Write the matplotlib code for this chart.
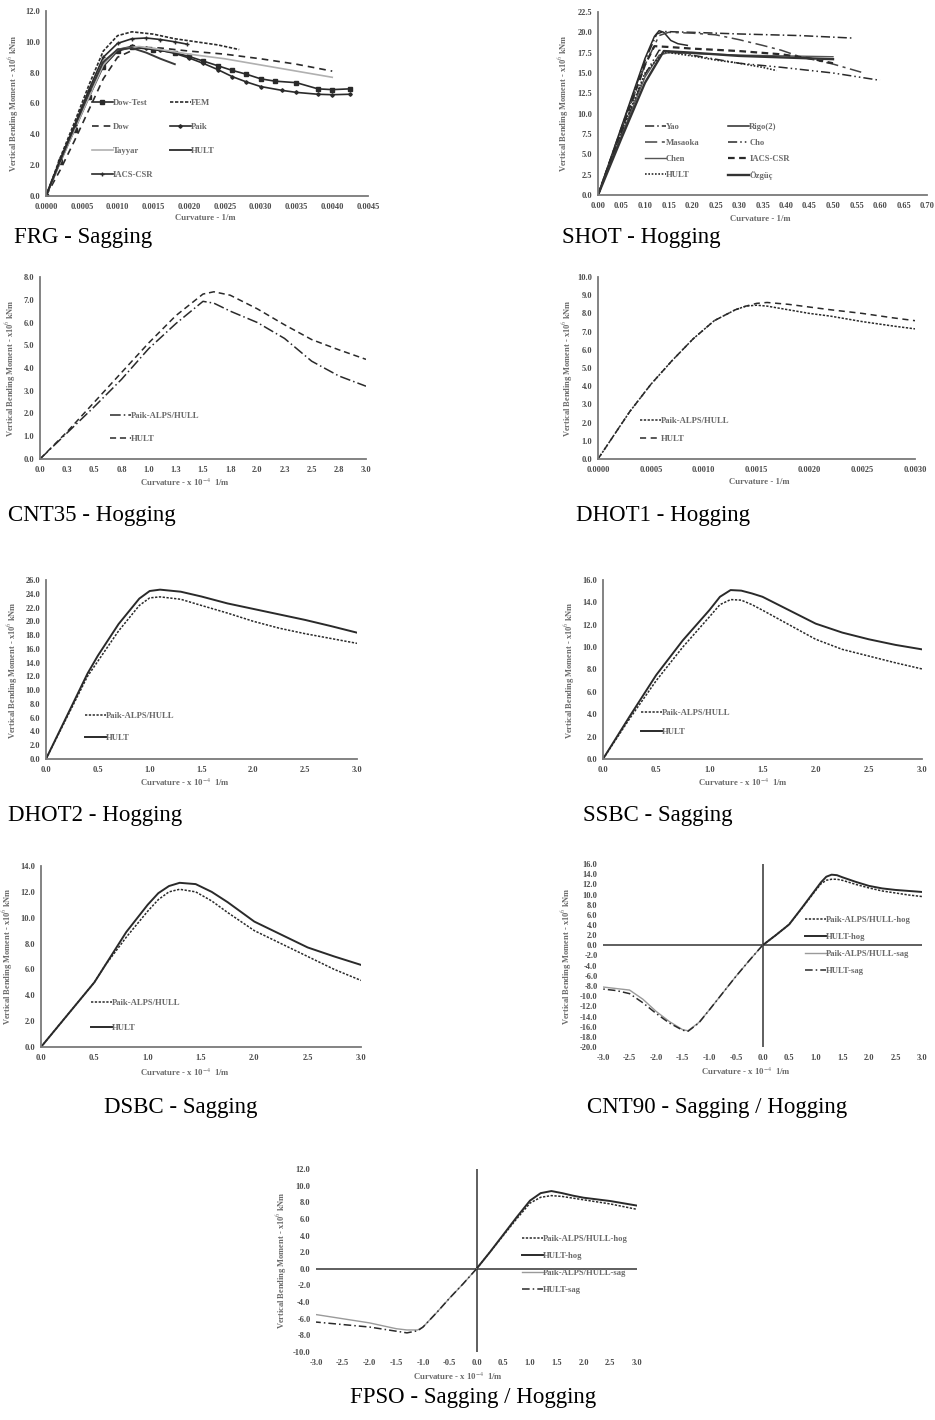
import matplotlib
matplotlib.use('Agg')
import matplotlib.pyplot as plt

plt.rcParams['font.family'] = ['Liberation Serif', 'DejaVu Serif']
plt.rcParams['mathtext.fontset'] = 'stix'

# ---------------- DATA ----------------
# FRG - Sagging (curvature 1/m, moment x10^6 kNm)
frg_dowtest_x = [0, 0.0002, 0.0004, 0.0006, 0.0008, 0.0010, 0.0012, 0.0015, 0.0018, 0.0020, 0.0022, 0.0024, 0.0026, 0.0028, 0.0030, 0.0032, 0.0035, 0.0038, 0.0040, 0.00425]
frg_dowtest_y = [0, 2.2, 4.3, 6.4, 8.4, 9.4, 9.65, 9.5, 9.3, 9.05, 8.75, 8.45, 8.15, 7.9, 7.6, 7.45, 7.35, 6.95, 6.9, 6.95]
frg_fem_x = [0, 0.0002, 0.0004, 0.0006, 0.0008, 0.0010, 0.0012, 0.0015, 0.0018, 0.0021, 0.0024, 0.0027]
frg_fem_y = [0, 2.5, 4.8, 7.2, 9.4, 10.4, 10.65, 10.5, 10.2, 10.0, 9.8, 9.5]
frg_dow_x = [0, 0.0002, 0.0004, 0.0006, 0.0008, 0.0010, 0.0013, 0.0016, 0.0020, 0.0025, 0.0030, 0.0035, 0.0040]
frg_dow_y = [0, 1.7, 3.6, 5.6, 7.6, 9.0, 9.65, 9.6, 9.4, 9.2, 8.9, 8.55, 8.1]
frg_paik_x = [0, 0.0002, 0.0004, 0.0006, 0.0008, 0.0010, 0.0012, 0.0014, 0.0016, 0.0018, 0.0020, 0.0022, 0.0024, 0.0026, 0.0028, 0.0030, 0.0033, 0.0035, 0.0038, 0.0040, 0.00425]
frg_paik_y = [0, 2.3, 4.4, 6.5, 8.6, 9.5, 9.7, 9.6, 9.45, 9.25, 8.95, 8.6, 8.2, 7.75, 7.4, 7.1, 6.85, 6.72, 6.6, 6.57, 6.6]
frg_tayyar_x = [0, 0.0002, 0.0004, 0.0006, 0.0008, 0.0010, 0.0013, 0.0016, 0.0020, 0.0025, 0.0030, 0.0035, 0.0040]
frg_tayyar_y = [0, 2.2, 4.3, 6.4, 8.5, 9.5, 9.7, 9.5, 9.2, 8.9, 8.5, 8.1, 7.7]
frg_hult_x = [0, 0.0002, 0.0004, 0.0006, 0.0008, 0.0010, 0.0012, 0.0014, 0.0016, 0.0018]
frg_hult_y = [0, 2.3, 4.5, 6.7, 8.7, 9.5, 9.6, 9.3, 8.9, 8.55]
frg_iacs_x = [0, 0.0002, 0.0004, 0.0006, 0.0008, 0.0010, 0.0012, 0.0014, 0.0016, 0.0018, 0.00197]
frg_iacs_y = [0, 2.4, 4.6, 6.9, 9.0, 9.9, 10.2, 10.25, 10.15, 10.0, 9.85]

# SHOT - Hogging
shot_yao_x = [0, 0.05, 0.10, 0.125, 0.14, 0.2, 0.25, 0.3, 0.43, 0.54]
shot_yao_y = [0, 8.3, 16.5, 19.8, 20.1, 20.0, 19.9, 19.8, 19.6, 19.3]
shot_rigo_x = [0, 0.05, 0.10, 0.12, 0.13, 0.14, 0.155, 0.17, 0.19]
shot_rigo_y = [0, 8.4, 16.8, 19.5, 20.2, 20.0, 19.0, 18.6, 18.4]
shot_masaoka_x = [0, 0.05, 0.10, 0.13, 0.15, 0.2, 0.25, 0.3, 0.35, 0.39, 0.43, 0.5, 0.56]
shot_masaoka_y = [0, 8.0, 16.0, 19.6, 20.0, 19.9, 19.7, 19.1, 18.4, 17.8, 17.0, 16.1, 15.1]
shot_cho_x = [0, 0.05, 0.10, 0.13, 0.16, 0.2, 0.25, 0.3, 0.39, 0.5, 0.6]
shot_cho_y = [0, 7.6, 14.8, 17.8, 17.6, 17.2, 16.7, 16.2, 15.7, 15.0, 14.1]
shot_chen_x = [0, 0.05, 0.10, 0.13, 0.15, 0.2, 0.3, 0.4, 0.5]
shot_chen_y = [0, 7.3, 14.5, 17.2, 17.5, 17.4, 17.2, 17.1, 17.0]
shot_iacs_x = [0, 0.05, 0.10, 0.12, 0.15, 0.2, 0.3, 0.39, 0.45, 0.5]
shot_iacs_y = [0, 8.0, 16.0, 18.3, 18.2, 18.0, 17.7, 17.3, 16.8, 16.2]
shot_hult_x = [0, 0.05, 0.10, 0.14, 0.2, 0.25, 0.3, 0.35, 0.38]
shot_hult_y = [0, 7.8, 15.0, 17.6, 17.1, 16.6, 16.2, 15.7, 15.3]
shot_ozguc_x = [0, 0.05, 0.10, 0.14, 0.2, 0.25, 0.3, 0.4, 0.5]
shot_ozguc_y = [0, 7.0, 13.8, 17.7, 17.5, 17.3, 17.1, 16.9, 16.7]

# CNT35 - Hogging (curvature x10^-4 1/m)
cnt35_x = [0, 0.25, 0.5, 0.75, 1.0, 1.25, 1.5, 1.6, 1.75, 2.0, 2.25, 2.5, 2.75, 3.0]
cnt35_paik = [0, 1.15, 2.3, 3.5, 4.85, 5.95, 6.93, 6.85, 6.5, 6.0, 5.3, 4.3, 3.65, 3.2]
cnt35_hult = [0, 1.2, 2.5, 3.8, 5.1, 6.3, 7.25, 7.35, 7.2, 6.6, 5.9, 5.25, 4.8, 4.38]

# DHOT1 - Hogging (curvature 1/m)
dhot1_x = [0, 0.0003, 0.0005, 0.0007, 0.0009, 0.0011, 0.0013, 0.0014, 0.0015, 0.0016, 0.0018, 0.0020, 0.0022, 0.0025, 0.0028, 0.0030]
dhot1_paik = [0, 2.6, 4.1, 5.4, 6.6, 7.6, 8.2, 8.4, 8.45, 8.4, 8.2, 8.0, 7.85, 7.55, 7.3, 7.15]
dhot1_hult = [0, 2.6, 4.1, 5.4, 6.6, 7.6, 8.2, 8.4, 8.55, 8.6, 8.5, 8.35, 8.2, 8.0, 7.75, 7.6]

# DHOT2 - Hogging
dhot2_x = [0, 0.2, 0.4, 0.5, 0.7, 0.9, 1.0, 1.1, 1.3, 1.5, 1.75, 2.0, 2.25, 2.5, 2.75, 3.0]
dhot2_paik = [0, 6.0, 12.0, 14.2, 18.6, 22.3, 23.4, 23.55, 23.2, 22.3, 21.2, 20.0, 19.0, 18.2, 17.5, 16.8]
dhot2_hult = [0, 6.2, 12.4, 15.0, 19.6, 23.3, 24.4, 24.6, 24.3, 23.6, 22.6, 21.8, 21.0, 20.2, 19.3, 18.35]

# SSBC - Sagging
ssbc_x = [0, 0.25, 0.5, 0.75, 1.0, 1.1, 1.2, 1.3, 1.4, 1.5, 1.75, 2.0, 2.25, 2.5, 2.75, 3.0]
ssbc_paik = [0, 3.6, 7.0, 10.0, 12.7, 13.8, 14.25, 14.2, 13.8, 13.3, 12.0, 10.7, 9.8, 9.2, 8.6, 8.05]
ssbc_hult = [0, 3.8, 7.5, 10.6, 13.3, 14.5, 15.1, 15.05, 14.8, 14.5, 13.3, 12.1, 11.3, 10.7, 10.2, 9.8]

# DSBC - Sagging
dsbc_x = [0, 0.2, 0.4, 0.5, 0.6, 0.8, 1.0, 1.1, 1.2, 1.3, 1.45, 1.6, 1.75, 2.0, 2.25, 2.5, 2.75, 3.0]
dsbc_paik = [0, 2.0, 4.0, 5.0, 6.3, 8.5, 10.5, 11.4, 12.0, 12.2, 12.0, 11.3, 10.4, 9.0, 8.0, 7.0, 6.0, 5.15]
dsbc_hult = [0, 2.0, 4.0, 5.0, 6.3, 8.9, 11.0, 11.9, 12.45, 12.7, 12.6, 12.0, 11.2, 9.7, 8.7, 7.7, 7.0, 6.35]

# CNT90 - Sagging / Hogging
cnt90_hog_x = [0, 0.25, 0.5, 0.75, 1.0, 1.1, 1.2, 1.3, 1.4, 1.5, 1.75, 2.0, 2.25, 2.5, 2.75, 3.0]
cnt90_paik_hog = [0, 2.0, 4.1, 7.4, 10.8, 12.1, 12.8, 13.0, 13.0, 12.8, 12.0, 11.3, 10.7, 10.3, 9.9, 9.6]
cnt90_hult_hog = [0, 2.0, 4.1, 7.5, 11.0, 12.4, 13.5, 13.9, 13.8, 13.4, 12.5, 11.7, 11.2, 10.9, 10.7, 10.5]
cnt90_sag_x = [0, -0.25, -0.5, -0.75, -1.0, -1.2, -1.4, -1.5, -1.75, -2.0, -2.25, -2.5, -2.75, -3.0]
cnt90_paik_sag = [0, -3.0, -6.1, -9.4, -12.7, -15.2, -16.8, -16.6, -15.0, -13.0, -10.6, -8.8, -8.5, -8.2]
cnt90_hult_sag = [0, -3.0, -6.1, -9.4, -12.7, -15.3, -16.9, -16.7, -15.3, -13.4, -11.3, -9.5, -8.9, -8.6]

# FPSO - Sagging / Hogging
fpso_hog_x = [0, 0.25, 0.5, 0.75, 1.0, 1.2, 1.4, 1.6, 1.8, 2.0, 2.5, 3.0]
fpso_paik_hog = [0, 2.0, 4.0, 6.0, 7.9, 8.6, 8.8, 8.7, 8.5, 8.3, 7.8, 7.15]
fpso_hult_hog = [0, 2.0, 4.1, 6.2, 8.2, 9.1, 9.35, 9.1, 8.8, 8.55, 8.15, 7.6]
fpso_sag_x = [0, -0.25, -0.5, -0.75, -1.0, -1.1, -1.3, -1.5, -2.0, -2.5, -3.0]
fpso_paik_sag = [0, -1.8, -3.5, -5.3, -7.0, -7.35, -7.35, -7.2, -6.5, -6.0, -5.5]
fpso_hult_sag = [0, -1.8, -3.5, -5.3, -7.0, -7.45, -7.7, -7.5, -7.0, -6.7, -6.4]

# tick labels
frg_xticks = [0, 0.0005, 0.0010, 0.0015, 0.0020, 0.0025, 0.0030, 0.0035, 0.0040, 0.0045]
shot_xticks = [0, 0.05, 0.10, 0.15, 0.20, 0.25, 0.30, 0.35, 0.40, 0.45, 0.50, 0.55, 0.60, 0.65, 0.70]
cnt35_xticks = [0, 0.25, 0.5, 0.75, 1.0, 1.25, 1.5, 1.75, 2.0, 2.25, 2.5, 2.75, 3.0]
cnt35_xlabels = ["0.0", "0.3", "0.5", "0.8", "1.0", "1.3", "1.5", "1.8", "2.0", "2.3", "2.5", "2.8", "3.0"]
dhot1_xticks = [0, 0.0005, 0.0010, 0.0015, 0.0020, 0.0025, 0.0030]
half_xticks = [0, 0.5, 1.0, 1.5, 2.0, 2.5, 3.0]
sym_xticks = [-3.0, -2.5, -2.0, -1.5, -1.0, -0.5, 0, 0.5, 1.0, 1.5, 2.0, 2.5, 3.0]

# ---------------- FIGURE ----------------
W, H = 935, 1420
fig = plt.figure(figsize=(W / 100, H / 100), dpi=100)

TICK_FS = 6.0
LEG_FS = 6.2
TICK_C = '#4a4a4a'
TXT = '#6a6a6a'
DARK = '#2a2a2a'
LEG_PX = LEG_FS * 100 / 72


def add_ax(l, t, r, b):
    return fig.add_axes([l / W, 1 - b / H, (r - l) / W, (b - t) / H])


def style(ax, xlim, ylim, xt, xl, yt, yl, cross=False):
    ax.set_xlim(*xlim)
    ax.set_ylim(*ylim)
    ax.set_xticks(xt)
    ax.set_xticklabels(xl)
    ax.set_yticks(yt)
    ax.set_yticklabels(yl)
    ax.tick_params(axis='x', length=0, labelsize=TICK_FS, labelcolor=TICK_C, pad=5)
    ax.tick_params(axis='y', length=0, labelsize=TICK_FS, labelcolor=TICK_C, pad=4)
    for lab in ax.get_xticklabels() + ax.get_yticklabels():
        lab.set_fontweight('bold')
    for s in ['top', 'right']:
        ax.spines[s].set_visible(False)
    if cross:
        ax.spines['left'].set_visible(False)
        ax.spines['bottom'].set_visible(False)
        ax.axhline(0, color='#333333', lw=1.1, zorder=1)
        ax.axvline(0, color='#333333', lw=1.1, zorder=1)
    else:
        for s in ['left', 'bottom']:
            ax.spines[s].set_color('#7a7a7a')
            ax.spines[s].set_linewidth(1.3)
    ax.patch.set_alpha(0)


def legend_h(ax, hs, x, y, step, ncol=1, colsep=1.0):
    ls = (step - LEG_PX * 1.15) / LEG_PX
    ax.legend(hs, [h.get_label() for h in hs], loc='upper left',
              bbox_to_anchor=(x / W, 1 - (y - LEG_PX * 0.62) / H),
              bbox_transform=fig.transFigure, frameon=False, ncol=ncol,
              prop={'size': LEG_FS, 'weight': 'bold', 'family': 'Liberation Serif'},
              labelcolor=TXT, handlelength=2.4, handletextpad=0.05, borderpad=0,
              borderaxespad=0, labelspacing=ls, columnspacing=colsep)


def ylabel(x, yc, s):
    fig.text(x / W, 1 - yc / H, s, rotation=90, ha='center', va='center',
             fontsize=TICK_FS, color=TXT, fontweight='bold')


def xlabel(xc, y, s):
    fig.text(xc / W, 1 - y / H, s, ha='center', va='center',
             fontsize=TICK_FS + 0.3, color=TXT, fontweight='bold')


def caption(x, y, s):
    fig.text(x / W, 1 - y / H, s, ha='left', va='center', fontsize=16.5,
             color='black', family='Liberation Serif')


def fmt(vals, f):
    return [f % v for v in vals]


YL = r'Vertical Bending Moment - x10$^{6}$ kNm'
XL_SI = 'Curvature - 1/m'
XL_E4 = r'Curvature - x 10$^{-4}$  1/m'

# ---- FRG ----
ax = add_ax(46, 11, 368, 196)
style(ax, (0, 0.0045), (0, 12), frg_xticks, fmt(frg_xticks, '%.4f'),
      [0, 2, 4, 6, 8, 10, 12], fmt([0, 2, 4, 6, 8, 10, 12], '%.1f'))
h_dt, = ax.plot(frg_dowtest_x, frg_dowtest_y, color=DARK, lw=1.2, marker='s', ms=2.6, label='Dow-Test')
h_fem, = ax.plot(frg_fem_x, frg_fem_y, color=DARK, lw=1.2, ls=(0, (2, 1)), label='FEM')
h_dow, = ax.plot(frg_dow_x, frg_dow_y, color=DARK, lw=1.2, ls=(0, (4, 3)), label='Dow')
h_pk, = ax.plot(frg_paik_x, frg_paik_y, color=DARK, lw=1.2, marker='D', ms=1.8, label='Paik')
h_ty, = ax.plot(frg_tayyar_x, frg_tayyar_y, color='#b0b0b0', lw=1.2, label='Tayyar')
h_hu, = ax.plot(frg_hult_x, frg_hult_y, color='#3a3a3a', lw=1.4, label='HULT')
h_ia, = ax.plot(frg_iacs_x, frg_iacs_y, color=DARK, lw=1.2, marker='+', ms=3, label='IACS-CSR')
legend_h(ax, [h_dt, h_dow, h_ty, h_ia, h_fem, h_pk, h_hu], 92, 104, 26, ncol=2, colsep=1.9)
ylabel(14, 103, YL)
xlabel(205, 218, XL_SI)
caption(14, 237, 'FRG - Sagging')

# ---- SHOT ----
ax = add_ax(598, 12, 927, 195)
style(ax, (0, 0.70), (0, 22.5), shot_xticks, fmt(shot_xticks, '%.2f'),
      [0, 2.5, 5, 7.5, 10, 12.5, 15, 17.5, 20, 22.5], fmt([0, 2.5, 5, 7.5, 10, 12.5, 15, 17.5, 20, 22.5], '%.1f'))
a1, = ax.plot(shot_yao_x, shot_yao_y, color=DARK, lw=1.1, ls=(0, (6, 2, 1, 2)), label='Yao')
a2, = ax.plot(shot_rigo_x, shot_rigo_y, color=DARK, lw=1.1, label='Rigo(2)')
a3, = ax.plot(shot_masaoka_x, shot_masaoka_y, color='#444444', lw=1.1, ls=(0, (8, 3, 2, 3)), label='Masaoka')
a4, = ax.plot(shot_cho_x, shot_cho_y, color=DARK, lw=1.1, ls=(0, (6, 2, 1, 2, 1, 2)), label='Cho')
a5, = ax.plot(shot_chen_x, shot_chen_y, color='#555555', lw=1.0, label='Chen')
a6, = ax.plot(shot_iacs_x, shot_iacs_y, color=DARK, lw=1.6, ls=(0, (3, 2)), label='IACS-CSR')
a7, = ax.plot(shot_hult_x, shot_hult_y, color=DARK, lw=1.2, ls=(0, (1, 1)), label='HULT')
a8, = ax.plot(shot_ozguc_x, shot_ozguc_y, color='#333333', lw=1.7, label='Özgüç')
legend_h(ax, [a1, a3, a5, a7, a2, a4, a6, a8], 645, 128, 18, ncol=2, colsep=3.3)
ylabel(564, 103, YL)
xlabel(760, 219, XL_SI)
caption(562, 237, 'SHOT - Hogging')

# ---- CNT35 ----
ax = add_ax(40, 277, 366, 459)
style(ax, (0, 3), (0, 8), cnt35_xticks, cnt35_xlabels, list(range(0, 9)), fmt(range(0, 9), '%.1f'))
b1, = ax.plot(cnt35_x, cnt35_paik, color=DARK, lw=1.1, ls=(0, (7, 2, 1, 2)), label='Paik-ALPS/HULL')
b2, = ax.plot(cnt35_x, cnt35_hult, color=DARK, lw=1.1, ls=(0, (4, 2.5)), label='HULT')
legend_h(ax, [b1, b2], 110, 417, 25)
ylabel(11, 368, YL)
xlabel(185, 482, XL_E4)
caption(8, 515, 'CNT35 - Hogging')

# ---- DHOT1 ----
ax = add_ax(598, 277, 915, 459)
style(ax, (0, 0.003), (0, 10), dhot1_xticks, fmt(dhot1_xticks, '%.4f'), list(range(0, 11)), fmt(range(0, 11), '%.1f'))
c1, = ax.plot(dhot1_x, dhot1_paik, color=DARK, lw=1.1, ls=(0, (1.5, 1)), label='Paik-ALPS/HULL')
c2, = ax.plot(dhot1_x, dhot1_hult, color=DARK, lw=1.1, ls=(0, (4, 3)), label='HULT')
legend_h(ax, [c1, c2], 640, 422, 20)
ylabel(568, 368, YL)
xlabel(759, 482, XL_SI)
caption(576, 515, 'DHOT1 - Hogging')

# ---- DHOT2 ----
ax = add_ax(46, 580, 357, 759)
style(ax, (0, 3), (0, 26), half_xticks, fmt(half_xticks, '%.1f'), list(range(0, 27, 2)), fmt(range(0, 27, 2), '%.1f'))
d1, = ax.plot(dhot2_x, dhot2_paik, color=DARK, lw=1.1, ls=(0, (1.5, 1)), label='Paik-ALPS/HULL')
d2, = ax.plot(dhot2_x, dhot2_hult, color=DARK, lw=1.4, label='HULT')
legend_h(ax, [d1, d2], 85, 717, 24)
ylabel(13, 670, YL)
xlabel(185, 782, XL_E4)
caption(8, 815, 'DHOT2 - Hogging')

# ---- SSBC ----
ax = add_ax(603, 580, 922, 759)
style(ax, (0, 3), (0, 16), half_xticks, fmt(half_xticks, '%.1f'), list(range(0, 17, 2)), fmt(range(0, 17, 2), '%.1f'))
e1, = ax.plot(ssbc_x, ssbc_paik, color=DARK, lw=1.1, ls=(0, (1.5, 1)), label='Paik-ALPS/HULL')
e2, = ax.plot(ssbc_x, ssbc_hult, color=DARK, lw=1.4, label='HULT')
legend_h(ax, [e1, e2], 641, 714, 21)
ylabel(570, 670, YL)
xlabel(743, 782, XL_E4)
caption(583, 815, 'SSBC - Sagging')

# ---- DSBC ----
ax = add_ax(41, 866, 361, 1047)
style(ax, (0, 3), (0, 14), half_xticks, fmt(half_xticks, '%.1f'), list(range(0, 15, 2)), fmt(range(0, 15, 2), '%.1f'))
f1, = ax.plot(dsbc_x, dsbc_paik, color=DARK, lw=1.1, ls=(0, (1.5, 1)), label='Paik-ALPS/HULL')
f2, = ax.plot(dsbc_x, dsbc_hult, color=DARK, lw=1.4, label='HULT')
legend_h(ax, [f1, f2], 91, 1004, 27)
ylabel(8, 956, YL)
xlabel(185, 1072, XL_E4)
caption(104, 1107, 'DSBC - Sagging')

# ---- CNT90 ----
ax = add_ax(603, 864, 922, 1047)
style(ax, (-3, 3), (-20, 16), sym_xticks, fmt(sym_xticks, '%.1f'), list(range(-20, 17, 2)), fmt(range(-20, 17, 2), '%.1f'), cross=True)
g1, = ax.plot(cnt90_hog_x, cnt90_paik_hog, color=DARK, lw=1.1, ls=(0, (1.5, 1)), label='Paik-ALPS/HULL-hog')
g2, = ax.plot(cnt90_hog_x, cnt90_hult_hog, color=DARK, lw=1.4, label='HULT-hog')
g3, = ax.plot(cnt90_sag_x, cnt90_paik_sag, color='#9a9a9a', lw=1.0, label='Paik-ALPS/HULL-sag')
g4, = ax.plot(cnt90_sag_x, cnt90_hult_sag, color=DARK, lw=1.1, ls=(0, (5, 2, 1, 2)), label='HULT-sag')
legend_h(ax, [g1, g2, g3, g4], 805, 921, 19)
ylabel(567, 956, YL)
xlabel(746, 1071, XL_E4)
caption(587, 1107, 'CNT90 - Sagging / Hogging')

# ---- FPSO ----
ax = add_ax(316, 1169, 637, 1352)
style(ax, (-3, 3), (-10, 12), sym_xticks, fmt(sym_xticks, '%.1f'), list(range(-10, 13, 2)), fmt(range(-10, 13, 2), '%.1f'), cross=True)
k1, = ax.plot(fpso_hog_x, fpso_paik_hog, color=DARK, lw=1.1, ls=(0, (1.5, 1)), label='Paik-ALPS/HULL-hog')
k2, = ax.plot(fpso_hog_x, fpso_hult_hog, color=DARK, lw=1.4, label='HULT-hog')
k3, = ax.plot(fpso_sag_x, fpso_paik_sag, color='#9a9a9a', lw=1.0, label='Paik-ALPS/HULL-sag')
k4, = ax.plot(fpso_sag_x, fpso_hult_sag, color=DARK, lw=1.1, ls=(0, (5, 2, 1, 2)), label='HULT-sag')
legend_h(ax, [k1, k2, k3, k4], 522, 1240, 19)
ylabel(282, 1260, YL)
xlabel(458, 1376, XL_E4)
caption(350, 1397, 'FPSO - Sagging / Hogging')

fig.savefig('out.png', dpi=100, facecolor='white')
